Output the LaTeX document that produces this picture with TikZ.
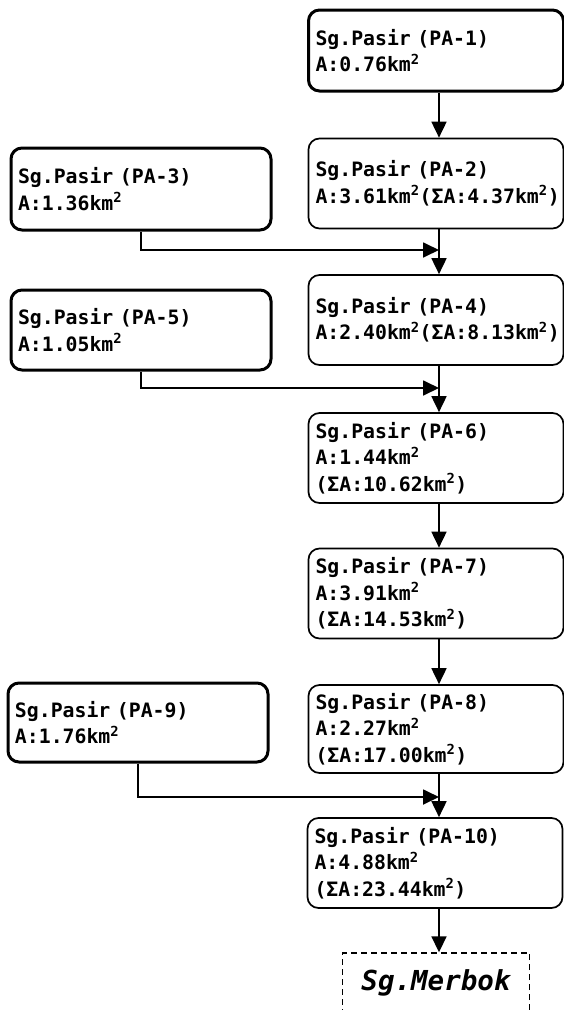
\documentclass[tikz,border=0pt]{standalone}
\usepackage{fontspec}
\newfontfamily\gothic{DejaVu Sans Mono}
\usetikzlibrary{arrows.meta,positioning}
\tikzset{basin/.style={draw,rounded corners=11pt,line width=1.7pt,align=left,inner xsep=7pt,
    font=\gothic\bfseries\fontsize{19.8}{26.5}\selectfont},
  main/.style={basin,minimum width=255pt,text width=241pt,minimum height=90pt},
  side/.style={basin,line width=3pt,minimum width=260pt,text width=246pt,minimum height=80pt},
  outlet/.style={draw,dash pattern=on 6pt off 4pt,line width=1.4pt,minimum width=187pt,minimum height=60pt,
    font=\gothic\bfseries\itshape\fontsize{27.5}{30}\selectfont},
  flow/.style={line width=1.8pt}}
\newcommand{\kmsq}{km\textsuperscript{2}}

\begin{document}
\begin{tikzpicture}[x=1pt,y=-1pt,>={Triangle[length=16pt,width=15pt]}]
    \useasboundingbox (0,0) rectangle (564,1010);

    % main stream
    \node[main,line width=3pt,minimum height=81pt] (pa1) at (436,50.5) {Sg.Pasir (PA-1)\\A:0.76\kmsq};
    \node[main] (pa2) at (436,183.5) {Sg.Pasir (PA-2)\\A:3.61\kmsq(ΣA:4.37\kmsq)};
    \node[main] (pa4) at (436,320) {Sg.Pasir (PA-4)\\A:2.40\kmsq(ΣA:8.13\kmsq)};
    \node[main] (pa6) at (436,458) {Sg.Pasir (PA-6)\\A:1.44\kmsq\\(ΣA:10.62\kmsq)};
    \node[main] (pa7) at (436,593.5) {Sg.Pasir (PA-7)\\A:3.91\kmsq\\(ΣA:14.53\kmsq)};
    \node[main,minimum height=88pt] (pa8) at (436,729) {Sg.Pasir (PA-8)\\A:2.27\kmsq\\(ΣA:17.00\kmsq)};
    \node[main] (pa10) at (435,863) {Sg.Pasir (PA-10)\\A:4.88\kmsq\\(ΣA:23.44\kmsq)};
    \node[outlet] (out) at (436,983) {Sg.Merbok};

    % tributaries
    \node[side,minimum height=82pt] (pa3) at (141,189) {Sg.Pasir (PA-3)\\A:1.36\kmsq};
    \node[side] (pa5) at (141,330) {Sg.Pasir (PA-5)\\A:1.05\kmsq};
    \node[side,minimum height=79pt] (pa9) at (138,722.5) {Sg.Pasir (PA-9)\\A:1.76\kmsq};

    \coordinate (col) at (439,0);
    \coordinate (j3) at (439,250);
    \coordinate (j5) at (439,388);
    \coordinate (j9) at (439,797);

    \draw[flow,->] (pa1.south -| col) -- (pa2.north -| col);
    \draw[flow,->] (pa2.south -| col) -- (pa4.north -| col);
    \draw[flow,->] (pa4.south -| col) -- (pa6.north -| col);
    \draw[flow,->] (pa6.south -| col) -- (pa7.north -| col);
    \draw[flow,->] (pa7.south -| col) -- (pa8.north -| col);
    \draw[flow,->] (pa8.south -| col) -- (pa10.north -| col);
    \draw[flow,->] (pa10.south -| col) -- (out.north -| col);

    \draw[flow,->] (pa3.south) |- (j3);
    \draw[flow,->] (pa5.south) |- (j5);
    \draw[flow,->] (pa9.south) |- (j9);
\end{tikzpicture}
\end{document}
